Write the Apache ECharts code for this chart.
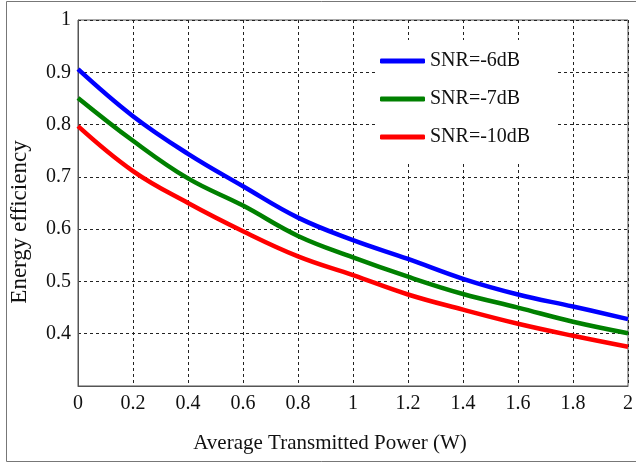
<!DOCTYPE html>
<html>
<head>
<meta charset="utf-8">
<script src="https://cdn.jsdelivr.net/npm/echarts@6/dist/echarts.min.js"></script>
<style>
  html, body { margin: 0; padding: 0; background: #fff; }
  #chart { width: 636px; height: 463px; }
</style>
</head>
<body>
<div id="chart"></div>
<script>
// average transmitted power (W)
const power = [0, 0.2, 0.4, 0.6, 0.8, 1.0, 1.2, 1.4, 1.6, 1.8, 2.0]

// energy efficiency per SNR
const snrMinus6 = [0.906, 0.816, 0.744, 0.682, 0.622, 0.579, 0.543, 0.505, 0.475, 0.452, 0.428]
const snrMinus7 = [0.851, 0.769, 0.697, 0.645, 0.587, 0.546, 0.509, 0.476, 0.450, 0.423, 0.401]
const snrMinus10 = [0.797, 0.711, 0.650, 0.596, 0.548, 0.512, 0.475, 0.446, 0.419, 0.396, 0.375]

const seriesNames = ['SNR=-6dB', 'SNR=-7dB', 'SNR=-10dB']
const seriesColors = ['#0000ff', '#008000', '#ff0000']

const font = '"Liberation Serif", "Times New Roman", serif'

const chart = echarts.init(document.getElementById('chart'))

const series = [snrMinus6, snrMinus7, snrMinus10].map((vals, i) => ({
  name: seriesNames[i],
  type: 'line',
  data: power.map((p, j) => [p, vals[j]]),
  smooth: 0.4,
  showSymbol: false,
  color: seriesColors[i],
  lineStyle: { width: 4.5, color: seriesColors[i] },
  z: 3
}))

const gridLine = { show: true, lineStyle: { color: '#222', type: [3, 3], width: 1 } }

const option = {
  backgroundColor: '#fff',
  animation: false,
  graphic: [{
    type: 'rect',
    shape: { x: 6.5, y: 1.5, width: 660, height: 460 },
    style: { fill: 'none', stroke: '#777', lineWidth: 1 },
    z: -1
  }],
  grid: {
    left: 77, right: 3, top: 20, bottom: 77,
    show: true, borderColor: '#555', borderWidth: 1
  },
  legend: {
    orient: 'vertical',
    left: 375,
    top: 40,
    padding: [9, 25, 14, 5],
    backgroundColor: '#fff',
    itemWidth: 45,
    itemHeight: 5,
    itemGap: 14,
    icon: 'roundRect',
    textStyle: { fontFamily: font, fontSize: 20, color: '#111', lineHeight: 24 },
    data: seriesNames,
    z: 10
  },
  xAxis: {
    type: 'value',
    min: 0, max: 2, interval: 0.2,
    name: 'Average Transmitted Power (W)',
    nameLocation: 'middle',
    nameGap: 47,
    nameTextStyle: { fontFamily: font, fontSize: 21, color: '#111', padding: [0, 46, 0, 0] },
    axisLine: { show: true, lineStyle: { color: '#555', width: 1 } },
    axisTick: { show: false },
    axisLabel: {
      fontFamily: font, fontSize: 20, color: '#111', margin: 8,
      formatter: v => String(Math.round(v * 10) / 10)
    },
    splitLine: gridLine
  },
  yAxis: {
    type: 'value',
    min: 0.3, max: 1, interval: 0.1,
    name: 'Energy efficiency',
    nameLocation: 'middle',
    nameGap: 47,
    nameTextStyle: { fontFamily: font, fontSize: 23, color: '#111', padding: [0, 38, 0, 0] },
    axisLine: { show: true, lineStyle: { color: '#555', width: 1 } },
    axisTick: { show: false },
    axisLabel: {
      fontFamily: font, fontSize: 20, color: '#111', margin: 7,
      formatter: v => {
        const r = Math.round(v * 10) / 10
        return r === 0.3 ? '' : String(r)
      }
    },
    splitLine: gridLine
  },
  series: series
}

chart.setOption(option)
window.addEventListener('resize', () => chart.resize())
</script>
</body>
</html>
